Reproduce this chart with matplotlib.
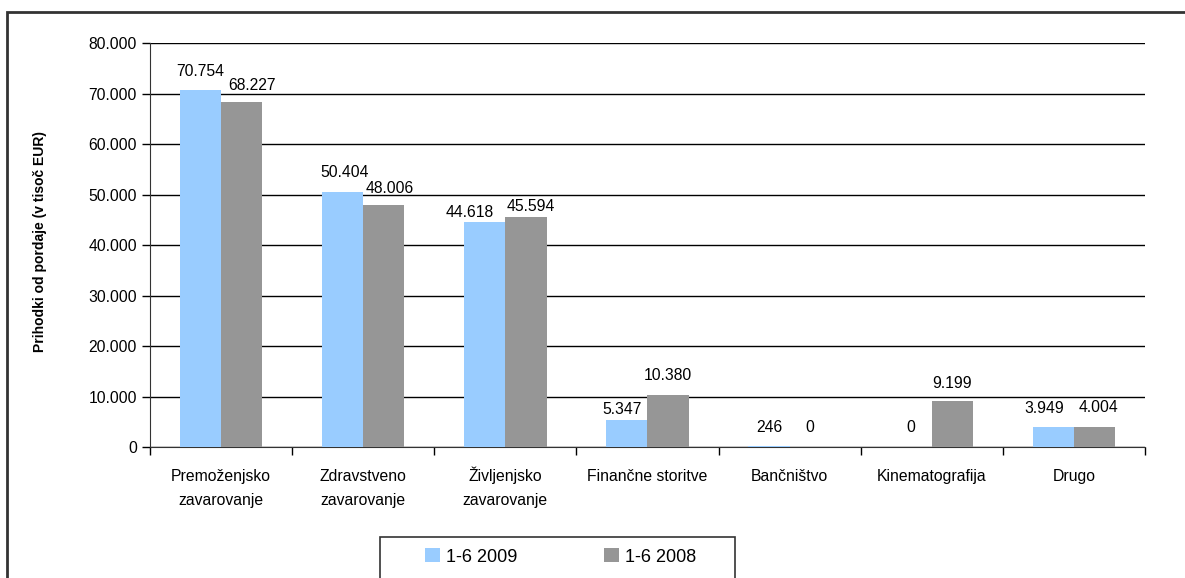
import numpy as np
import matplotlib.pyplot as plt
from matplotlib.patches import Rectangle
from matplotlib.ticker import FuncFormatter

plt.rcParams['font.family'] = ['Liberation Sans', 'DejaVu Sans']

categories = ['Premoženjsko\nzavarovanje', 'Zdravstveno\nzavarovanje', 'Življenjsko\nzavarovanje',
              'Finančne storitve', 'Bančništvo', 'Kinematografija', 'Drugo']
val_2009 = [70754, 50404, 44618, 5347, 246, 0, 3949]
val_2008 = [68227, 48006, 45594, 10380, 0, 9199, 4004]
series_names = ['1-6 2009', '1-6 2008']

# label nudges in pixels (Excel pushes crowded labels apart)
dx_2009 = [0, 2, -15, -5, 0, 0, -9]
dy_2009 = [14, 15, 5, 6, 14, 15, 14]
dx_2008 = [10, 6, 5, 0, 0, 0, 4]
dy_2008 = [12, 12, 6, 15, 15, 13, 15]

def fmt(v):
    # slovene thousands separator is a dot
    return '{:,}'.format(int(v)).replace(',', '.')

px = 0.72  # pixels -> points at 100 dpi

fig = plt.figure(figsize=(11.85, 5.78), dpi=100)
ax = fig.add_axes([0.1266, 0.2266, 0.8396, 0.699])

x = np.arange(len(categories))
w = 0.29
b1 = ax.bar(x - w / 2, val_2009, w, color='#99CCFF', label=series_names[0], zorder=3)
b2 = ax.bar(x + w / 2, val_2008, w, color='#969696', label=series_names[1], zorder=3)

for bars, vals, dxs, dys in [(b1, val_2009, dx_2009, dy_2009), (b2, val_2008, dx_2008, dy_2008)]:
    for r, v, dx, dy in zip(bars, vals, dxs, dys):
        ax.annotate(fmt(v), (r.get_x() + r.get_width() / 2, v),
                    xytext=(dx * px, dy * px), textcoords='offset points',
                    ha='center', va='baseline', fontsize=11.3)

ax.set_xlim(-0.5, len(categories) - 0.5)
ax.set_ylim(0, 80000)
ax.set_yticks(np.arange(0, 80001, 10000))
ax.yaxis.set_major_formatter(FuncFormatter(lambda v, p: fmt(v)))
ax.yaxis.grid(True, color='black', lw=1)
ax.set_axisbelow(True)

# category labels, line by line so every first line sits on the same baseline
ax.set_xticks(x)
ax.set_xticklabels([])
ax.tick_params(axis='x', length=0)
for xi, cat in zip(x, categories):
    for k, line in enumerate(cat.split('\n')):
        ax.annotate(line, (xi, 0), xycoords=('data', 'axes fraction'),
                    xytext=(0, -(34 + 24 * k) * px), textcoords='offset points',
                    ha='center', va='baseline', fontsize=11.3)
ax.set_xticks(np.arange(-0.5, len(categories)), minor=True)
ax.tick_params(axis='x', which='minor', length=6, width=1, direction='out')
ax.tick_params(axis='y', labelsize=11.3, length=6, width=1, direction='out')

ax.spines['top'].set_visible(False)
ax.spines['right'].set_visible(False)
ax.spines['left'].set_color('#333333')
ax.spines['bottom'].set_color('#333333')

fig.text(0.034, 0.583, 'Prihodki od pordaje (v tisoč EUR)', rotation=90,
         ha='center', va='center', fontsize=10, fontweight='bold')

# outer chart frame
fig.patches.append(Rectangle((7 / 1185, -0.05), 1.1, 0.05 + 1 - 12 / 578,
                             transform=fig.transFigure, fill=False,
                             edgecolor='#333333', lw=2))
# legend box (cut off at the bottom like the original)
fig.patches.append(Rectangle((380 / 1185, -0.05), 355 / 1185, 0.05 + 1 - 537 / 578,
                             transform=fig.transFigure, fill=False,
                             edgecolor='#333333', lw=1.2))
fig.legend(handles=[b1, b2], loc='center', bbox_to_anchor=(561 / 1185, 1 - 557 / 578),
           ncol=2, frameon=False, fontsize=13, handlelength=0.83, handleheight=0.83,
           columnspacing=4.8, handletextpad=0.33, borderpad=0, borderaxespad=0)

fig.savefig('out.png', dpi=100)
